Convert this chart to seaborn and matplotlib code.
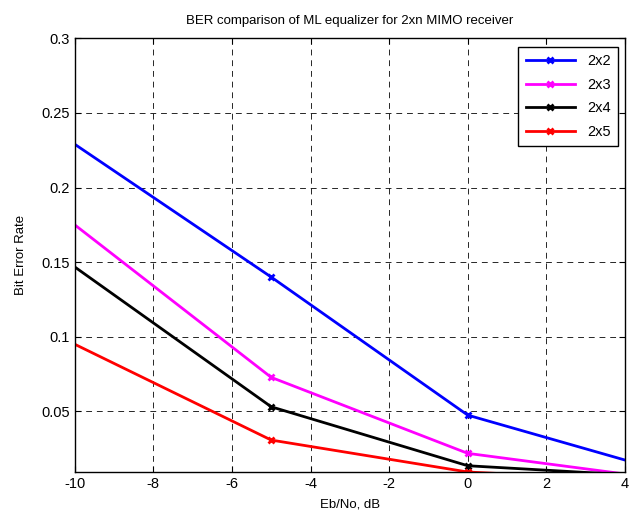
import numpy as np
import pandas as pd
import matplotlib.pyplot as plt
import seaborn as sns
from matplotlib.ticker import FormatStrFormatter

# BER values (Eb/No in dB)
ebno = [-10, -5, 0, 5]
ber_2x2 = [0.229, 0.140, 0.0475, 0.0099]
ber_2x3 = [0.175, 0.0728, 0.0219, 0.0046]
ber_2x4 = [0.1468, 0.0531, 0.0136, 0.0061]
ber_2x5 = [0.095, 0.0308, 0.0094, 0.0030]
labels = ["2x2", "2x3", "2x4", "2x5"]
colors = ["#0000ff", "#ff00ff", "#000000", "#ff0000"]

plt.rcParams['font.family'] = ['Liberation Sans', 'DejaVu Sans']
plt.rcParams['axes.unicode_minus'] = False

fig = plt.figure(figsize=(6.3, 5.17), dpi=100)
ax = fig.add_axes([0.1186, 0.0876, 0.8734, 0.8384])

for lab, vals, col in zip(labels, [ber_2x2, ber_2x3, ber_2x4, ber_2x5], colors):
    sns.lineplot(x=ebno, y=vals, ax=ax, color=col, marker="x", markersize=5,
                 markeredgewidth=2, markeredgecolor=col, linewidth=2, label=lab,
                 markevery=[1, 2, 3])

ax.set_xlim(-10, 4)
ax.set_ylim(0.0096, 0.3)
ax.set_xticks(np.arange(-10, 5, 2))
ax.set_yticks([0.05, 0.1, 0.15, 0.2, 0.25, 0.3])
ax.yaxis.set_major_formatter(FormatStrFormatter("%g"))
ax.grid(True, color="black", linestyle=(0, (6, 5)), linewidth=0.7, alpha=0.85)
ax.tick_params(direction="in", top=True, right=True, labelsize=10.5, length=4)
for sp in ax.spines.values():
    sp.set_linewidth(1)
    sp.set_color("black")

ax.set_title("BER comparison of ML equalizer for 2xn MIMO receiver", fontsize=9.5, pad=10)
ax.set_xlabel("Eb/No, dB", fontsize=9.5, labelpad=6)
ax.set_ylabel("Bit Error Rate", fontsize=9.5, labelpad=10)

leg = ax.legend(loc="upper right", fontsize=10.5, fancybox=False, framealpha=1,
                edgecolor="black", handlelength=3.4, borderpad=0.5,
                labelspacing=0.65, borderaxespad=0, bbox_to_anchor=(0.987, 0.98))
leg.get_frame().set_linewidth(1)

fig.savefig("out.png", dpi=100)
